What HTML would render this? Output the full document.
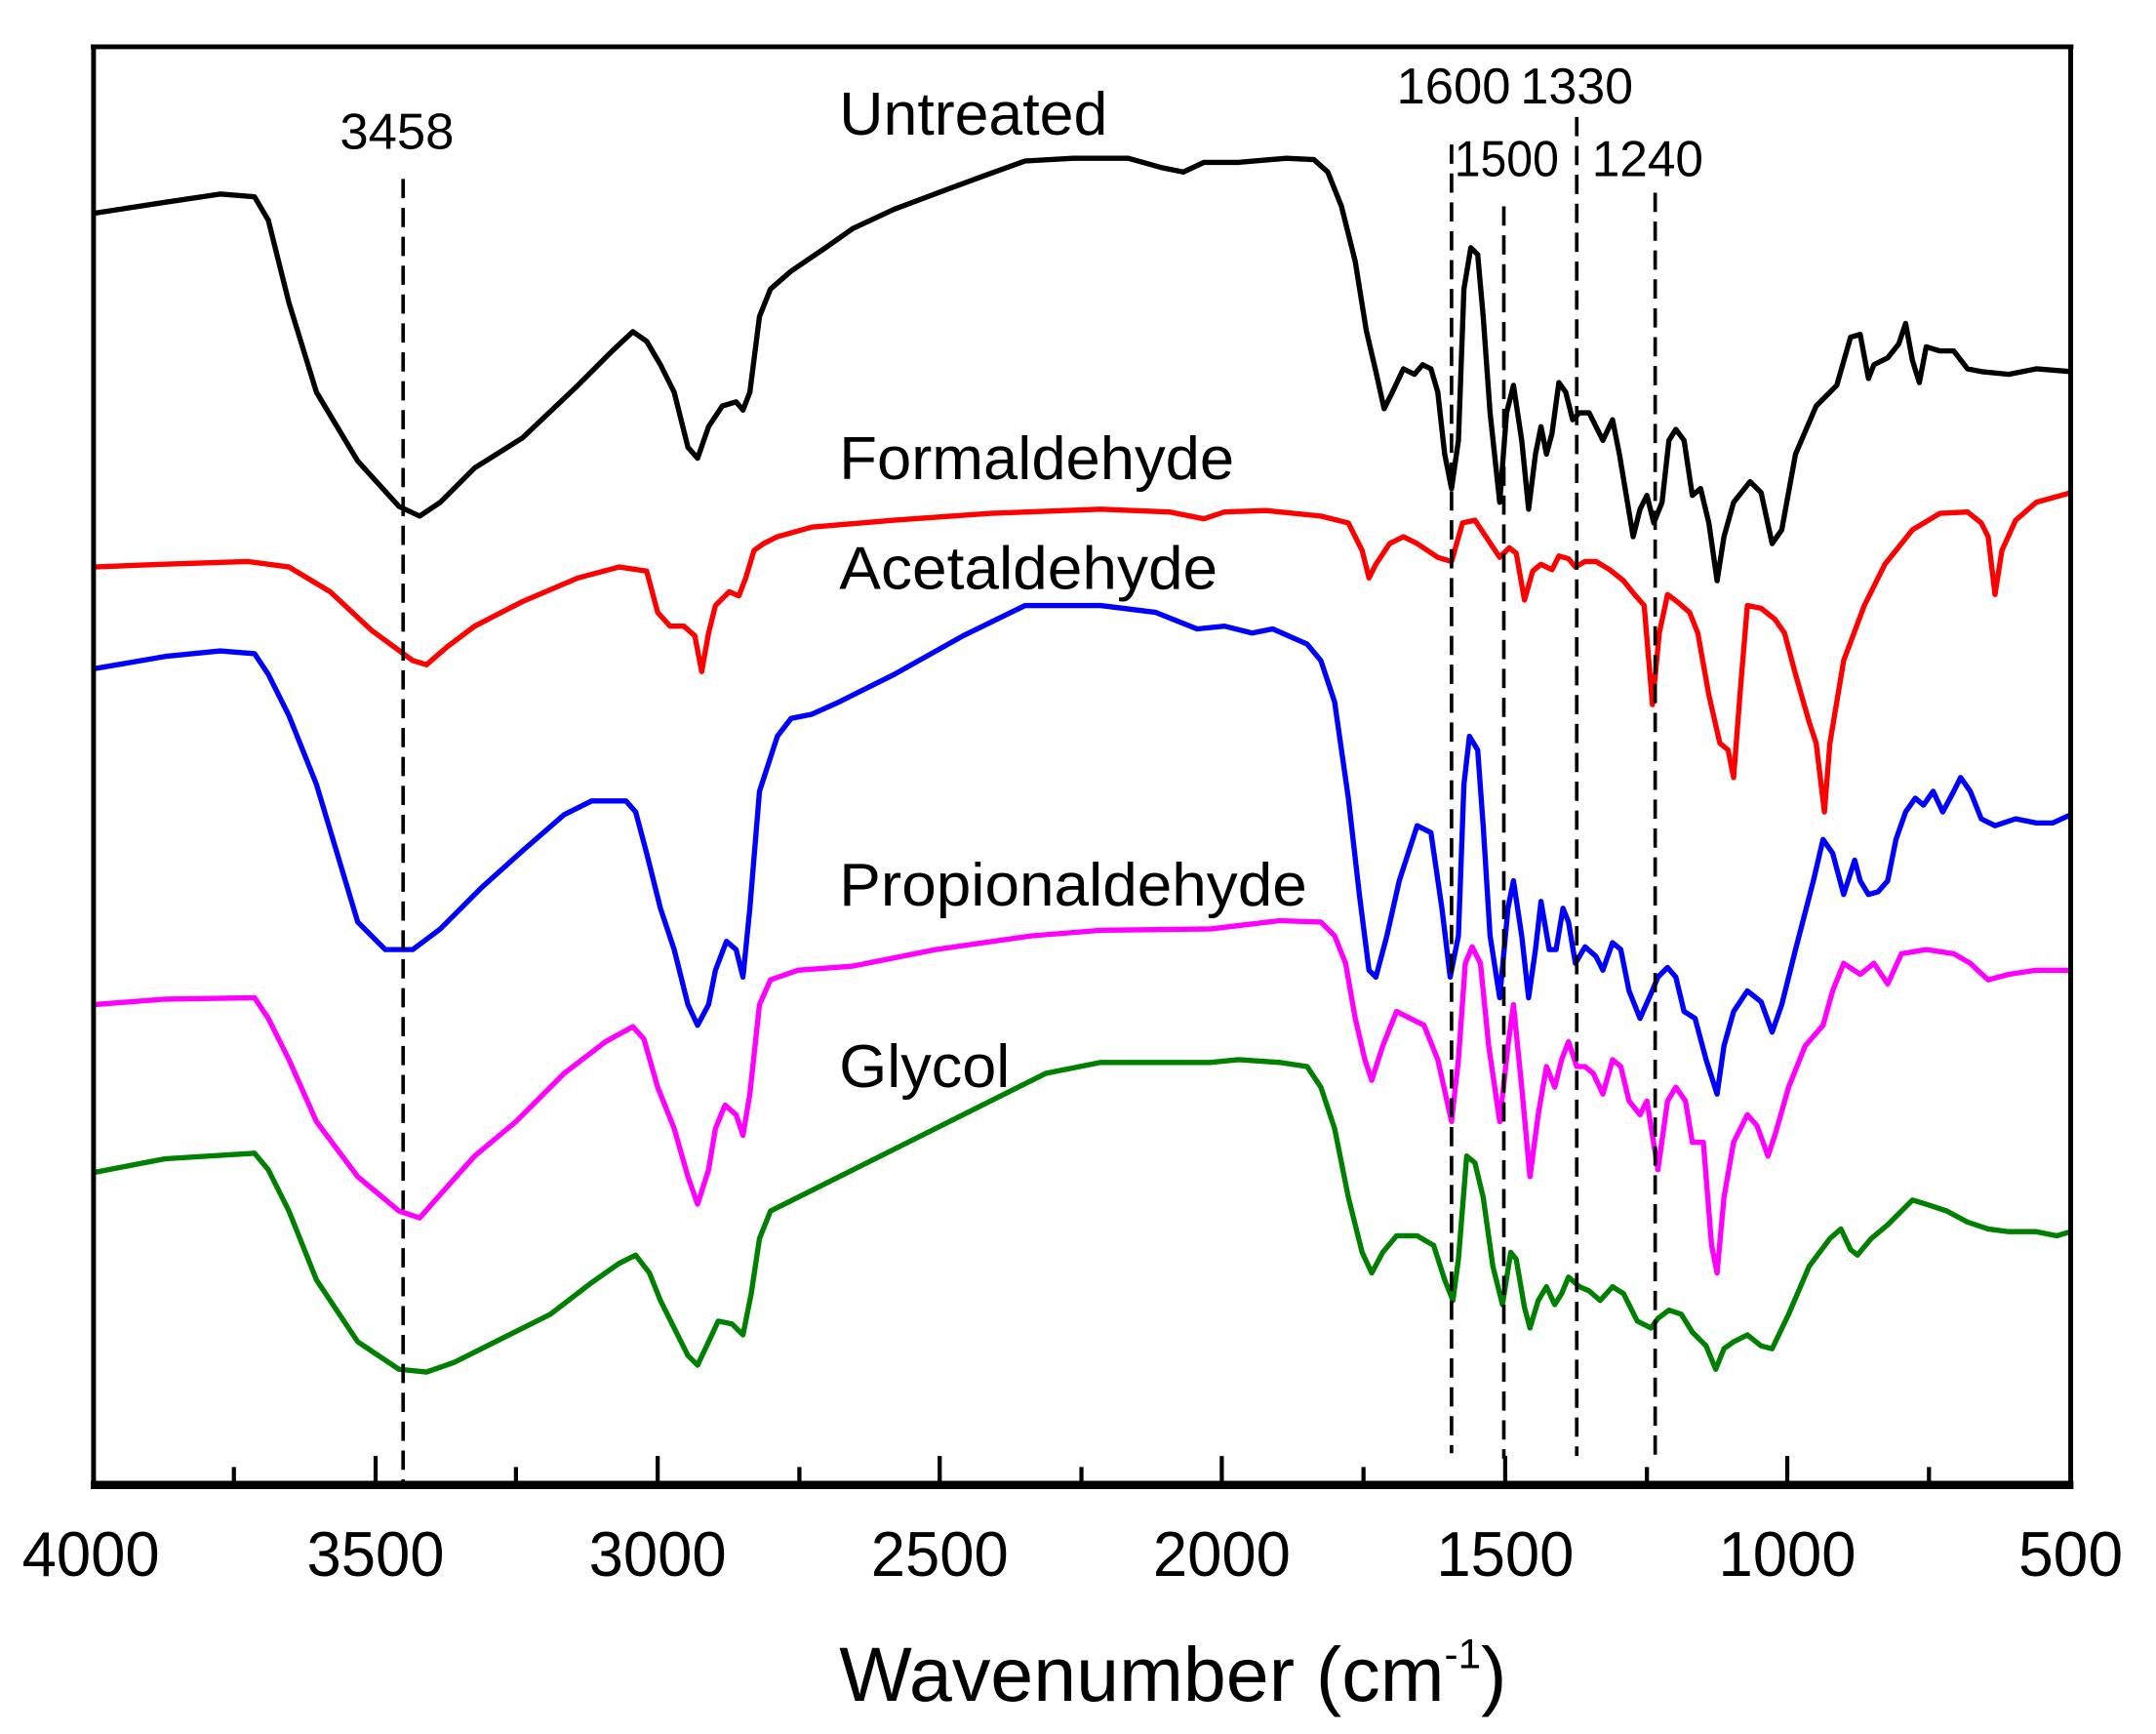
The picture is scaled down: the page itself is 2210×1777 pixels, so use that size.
<!DOCTYPE html>
<html><head><meta charset="utf-8"><style>html,body{margin:0;padding:0;background:#fff}svg{display:block}</style></head>
<body>
<svg width="2210" height="1777" viewBox="0 0 1567 1260" preserveAspectRatio="none" xmlns="http://www.w3.org/2000/svg" font-family="'Liberation Sans',sans-serif">
<rect x="0" y="0" width="1567" height="1260" fill="#fff"/>
<g fill="none" stroke-width="3.8" stroke-linejoin="round">
<polyline stroke="#000" points="68,155 120,147 160,141 185,143 195,160 210,220 230,285 260,335 290,368 305,375 320,365 345,340 380,318 420,280 445,255 460,241 470,248 480,265 490,285 500,325 507,333 515,310 525,295 535,292 540,298 545,285 552,230 560,210 575,197 600,180 620,166 650,152 690,137 720,126 745,117 780,115 820,115 845,122 860,125 875,118 900,118 935,115 955,116 965,125 975,150 985,190 993,240 1000,270 1006,297 1012,285 1020,268 1028,272 1034,265 1040,268 1045,285 1050,330 1055,355 1060,320 1064,210 1069,180 1074,185 1078,230 1083,300 1090,365 1095,300 1100,280 1106,320 1111,370 1116,330 1120,310 1124,330 1128,315 1133,278 1138,285 1143,305 1148,300 1155,300 1160,310 1165,320 1172,305 1177,330 1182,360 1187,390 1192,370 1197,360 1202,380 1208,365 1213,320 1218,312 1224,320 1230,360 1236,355 1242,380 1248,422 1253,390 1260,365 1272,350 1280,358 1288,395 1295,385 1305,330 1320,295 1335,280 1345,245 1352,243 1358,275 1362,265 1372,260 1380,250 1385,235 1390,262 1395,278 1400,252 1410,255 1420,255 1430,268 1440,270 1460,272 1480,268 1505,270"/>
<polyline stroke="#ff0000" points="68,412 120,410 180,408 210,412 240,430 270,458 300,480 310,483 325,470 345,455 380,437 420,420 450,412 470,415 478,445 487,455 497,455 505,462 510,488 515,460 520,440 530,430 537,433 542,420 548,400 555,395 565,390 590,383 650,378 720,373 800,370 850,372 875,377 890,372 920,371 960,375 980,380 990,400 995,420 1000,410 1010,395 1020,390 1030,395 1045,405 1055,408 1063,380 1072,378 1080,390 1090,405 1097,398 1102,402 1108,436 1114,415 1120,410 1128,414 1133,404 1140,406 1145,412 1152,408 1160,408 1170,414 1180,422 1188,432 1195,440 1201,512 1206,460 1212,432 1220,438 1228,445 1234,460 1242,505 1250,540 1256,545 1260,565 1265,500 1270,440 1280,442 1290,450 1297,460 1305,490 1315,525 1320,540 1326,590 1330,540 1340,480 1355,440 1370,410 1390,385 1410,373 1430,372 1440,380 1445,390 1450,432 1455,400 1465,378 1480,365 1505,358"/>
<polyline stroke="#0000ff" points="68,486 120,477 160,473 185,475 195,490 210,520 230,570 245,620 260,670 280,690 300,690 320,675 350,645 380,618 410,592 430,582 455,582 462,590 470,620 480,660 490,690 500,730 507,745 515,730 520,705 528,684 535,690 540,710 545,660 552,575 565,535 575,522 590,519 610,510 650,490 700,462 745,440 800,440 840,445 870,457 890,455 910,460 925,457 950,468 960,480 970,510 980,580 988,650 995,705 1000,710 1008,680 1017,640 1030,600 1040,605 1048,660 1054,710 1060,680 1064,570 1068,535 1074,545 1078,600 1083,680 1090,725 1096,660 1100,640 1106,680 1111,725 1116,690 1120,655 1126,690 1131,690 1136,660 1140,670 1145,700 1152,688 1160,695 1165,705 1172,685 1178,690 1184,720 1192,740 1200,722 1205,710 1212,703 1218,710 1224,735 1232,740 1240,770 1248,795 1253,760 1260,735 1270,720 1280,728 1288,750 1295,730 1305,690 1318,640 1325,610 1332,620 1340,650 1348,625 1352,640 1358,650 1365,648 1372,640 1378,610 1385,590 1392,580 1398,585 1405,575 1412,590 1420,575 1425,565 1432,575 1440,595 1450,600 1465,595 1480,598 1492,598 1505,592"/>
<polyline stroke="#ff00ff" points="68,730 120,726 185,725 195,740 210,770 230,815 260,855 290,880 305,885 320,868 345,840 375,815 410,780 440,757 460,746 468,755 478,790 490,820 500,855 507,875 515,850 520,820 527,803 535,810 540,825 545,795 552,730 560,712 580,705 620,702 680,690 750,680 800,676 880,675 930,669 960,670 970,680 978,700 985,740 992,770 997,785 1005,760 1015,735 1025,740 1035,745 1045,770 1055,815 1060,770 1065,700 1070,688 1076,700 1082,760 1090,815 1096,760 1100,730 1106,790 1112,855 1118,810 1124,775 1130,790 1135,770 1140,757 1146,775 1152,775 1158,780 1165,795 1172,770 1178,775 1184,800 1192,810 1197,800 1205,850 1212,800 1218,790 1225,800 1230,830 1238,830 1244,905 1248,925 1253,870 1260,830 1270,810 1277,818 1285,840 1290,825 1300,790 1312,760 1325,745 1332,720 1340,700 1352,708 1362,700 1372,715 1382,693 1400,690 1420,693 1432,700 1445,712 1460,708 1480,705 1505,705"/>
<polyline stroke="#008000" points="68,852 120,842 185,838 195,850 210,880 230,930 260,975 290,995 310,997 330,990 360,975 400,955 430,932 450,918 462,912 472,925 480,945 490,965 500,985 507,992 515,975 522,960 532,962 540,970 546,940 552,900 560,880 590,865 630,845 680,820 720,800 760,780 800,772 880,772 900,770 930,772 950,775 960,790 970,820 980,870 990,910 997,925 1005,910 1015,898 1030,898 1042,905 1050,930 1056,945 1060,915 1066,840 1072,845 1078,870 1085,920 1092,948 1098,910 1102,915 1108,950 1112,965 1118,945 1124,935 1130,948 1135,940 1140,928 1148,935 1155,938 1163,945 1172,935 1180,940 1190,960 1200,965 1205,958 1213,952 1222,955 1230,968 1240,978 1247,995 1253,980 1260,975 1270,970 1280,978 1288,980 1300,955 1315,920 1330,900 1338,893 1345,908 1350,912 1360,900 1372,890 1382,880 1390,872 1400,875 1415,880 1430,888 1445,893 1460,895 1480,895 1495,898 1505,895"/>
</g>
<g stroke="#000" stroke-width="2.6" stroke-dasharray="14,7">
<line x1="293" y1="130" x2="293" y2="1080"/>
<line x1="1055" y1="105" x2="1055" y2="1056"/>
<line x1="1093" y1="150" x2="1093" y2="1060"/>
<line x1="1146" y1="85" x2="1146" y2="1058"/>
<line x1="1203" y1="140" x2="1203" y2="1058"/>
</g>
<g stroke="#000" fill="none">
<line x1="66" y1="34" x2="1507" y2="34" stroke-width="3.5"/>
<line x1="68" y1="33" x2="68" y2="1082" stroke-width="3.5"/>
<line x1="1505" y1="33" x2="1505" y2="1082" stroke-width="3.5"/>
<line x1="66" y1="1079" x2="1507" y2="1079" stroke-width="6"/>
<g stroke-width="3">
<line x1="273" y1="1078" x2="273" y2="1058"/><line x1="478" y1="1078" x2="478" y2="1058"/><line x1="683" y1="1078" x2="683" y2="1058"/><line x1="888" y1="1078" x2="888" y2="1058"/><line x1="1094" y1="1078" x2="1094" y2="1058"/><line x1="1299" y1="1078" x2="1299" y2="1058"/>
<line x1="170" y1="1078" x2="170" y2="1066"/><line x1="375" y1="1078" x2="375" y2="1066"/><line x1="581" y1="1078" x2="581" y2="1066"/><line x1="786" y1="1078" x2="786" y2="1066"/><line x1="991" y1="1078" x2="991" y2="1066"/><line x1="1197" y1="1078" x2="1197" y2="1066"/><line x1="1402" y1="1078" x2="1402" y2="1066"/>
</g>
</g>
<g font-size="46" text-anchor="middle" fill="#000">
<text x="66" y="1145" textLength="100" lengthAdjust="spacingAndGlyphs">4000</text><text x="273" y="1145" textLength="100" lengthAdjust="spacingAndGlyphs">3500</text><text x="478" y="1145" textLength="100" lengthAdjust="spacingAndGlyphs">3000</text><text x="683" y="1145" textLength="100" lengthAdjust="spacingAndGlyphs">2500</text><text x="888" y="1145" textLength="100" lengthAdjust="spacingAndGlyphs">2000</text><text x="1094" y="1145" textLength="100" lengthAdjust="spacingAndGlyphs">1500</text><text x="1299" y="1145" textLength="100" lengthAdjust="spacingAndGlyphs">1000</text><text x="1505" y="1145" textLength="76" lengthAdjust="spacingAndGlyphs">500</text>
</g>
<text x="610" y="1236" font-size="56" fill="#000">Wavenumber (cm<tspan font-size="30" dy="-24">-1</tspan><tspan dy="24">)</tspan></text>
<g font-size="44" fill="#000">
<text x="610" y="98" textLength="195" lengthAdjust="spacingAndGlyphs">Untreated</text>
<text x="610" y="348" textLength="287" lengthAdjust="spacingAndGlyphs">Formaldehyde</text>
<text x="610" y="428" textLength="275" lengthAdjust="spacingAndGlyphs">Acetaldehyde</text>
<text x="610" y="658" textLength="340" lengthAdjust="spacingAndGlyphs">Propionaldehyde</text>
<text x="610" y="790" textLength="124" lengthAdjust="spacingAndGlyphs">Glycol</text>
</g>
<g font-size="37" fill="#000">
<text x="247" y="108" textLength="83" lengthAdjust="spacingAndGlyphs">3458</text>
<text x="1015" y="75" textLength="83" lengthAdjust="spacingAndGlyphs">1600</text>
<text x="1105" y="75" textLength="82" lengthAdjust="spacingAndGlyphs">1330</text>
<text x="1057" y="128" textLength="76" lengthAdjust="spacingAndGlyphs">1500</text>
<text x="1157" y="128" textLength="81" lengthAdjust="spacingAndGlyphs">1240</text>
</g>
</svg>
</body></html>
